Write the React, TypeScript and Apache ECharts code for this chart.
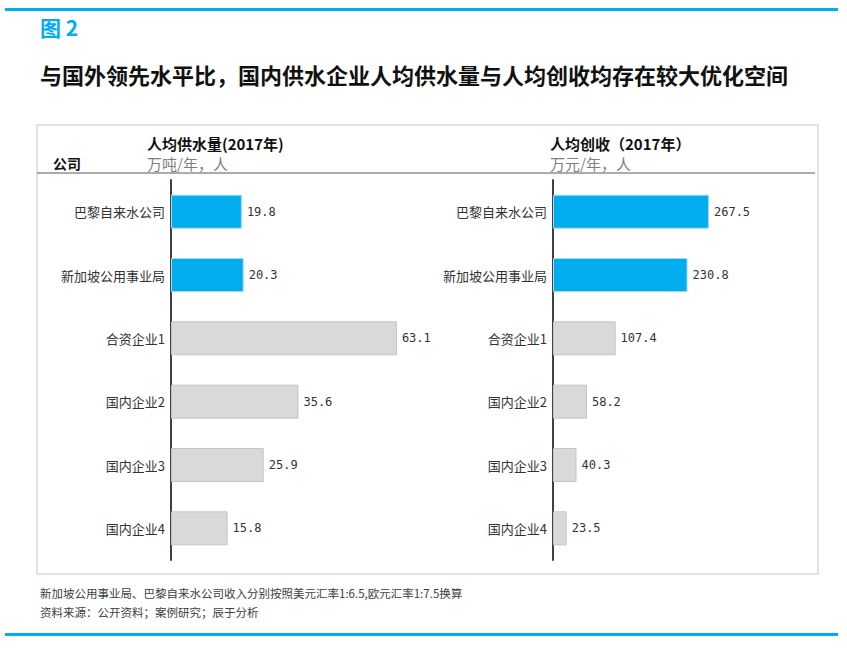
import React, { useEffect, useRef } from "react";
import * as echarts from "echarts";

const companies = ["巴黎自来水公司", "新加坡公用事业局", "合资企业1", "国内企业2", "国内企业3", "国内企业4"];
const supplyPerCapita = [19.8, 20.3, 63.1, 35.6, 25.9, 15.8];
const revenuePerCapita = [267.5, 230.8, 107.4, 58.2, 40.3, 23.5];
const highlightCount = 2;

const figLabel = "图 2";
const titleText = "与国外领先水平比，国内供水企业人均供水量与人均创收均存在较大优化空间";
const leftHeader = "人均供水量(2017年)";
const leftUnit = "万吨/年，人";
const rightHeader = "人均创收（2017年）";
const rightUnit = "万元/年，人";
const companyHeader = "公司";
const note1 = "新加坡公用事业局、巴黎自来水公司收入分别按照美元汇率1:6.5,欧元汇率1:7.5换算";
const note2 = "资料来源：公开资料；案例研究；辰于分析";

const BLUE = "#00AEEF";
const FONT = "'Noto Sans CJK SC', 'Noto Sans', sans-serif";
const MONO = "'DejaVu Sans Mono', 'Liberation Mono', monospace";

function barData(values: number[]) {
  return values.map((v, i) => ({
    value: v,
    itemStyle:
      i < highlightCount
        ? { color: BLUE, borderColor: "#A9D9EE", borderWidth: 1 }
        : { color: "#D9D9D9", borderColor: "#C4C4C4", borderWidth: 1 },
  }));
}

export default function App() {
  const ref = useRef<HTMLDivElement>(null);
  useEffect(() => {
    if (!ref.current) return;
    const chart = echarts.init(ref.current, undefined, { renderer: "svg" });
    const yAxisCommon = {
      type: "category" as const,
      data: companies,
      inverse: true,
      axisLine: { show: true, lineStyle: { color: "#404040", width: 2 } },
      axisTick: { show: false },
      axisLabel: { fontSize: 13, color: "#333", margin: 6, fontFamily: FONT },
    };
    const labelCommon = {
      show: true,
      position: "right" as const,
      distance: 5,
      fontSize: 12,
      color: "#333",
      fontFamily: MONO,
      formatter: (p: any) => Number(p.value).toFixed(1),
    };
    chart.setOption({
      animation: false,
      backgroundColor: "#fff",
      textStyle: { fontFamily: FONT },
      grid: [
        { left: 171, top: 180, width: 286.4, height: 380 },
        { left: 553, top: 180, width: 233.2, height: 380 },
      ],
      xAxis: [
        { type: "value", gridIndex: 0, min: 0, max: 80, show: false },
        { type: "value", gridIndex: 1, min: 0, max: 400, show: false },
      ],
      yAxis: [
        { ...yAxisCommon, gridIndex: 0 },
        { ...yAxisCommon, gridIndex: 1 },
      ],
      series: [
        {
          type: "bar",
          xAxisIndex: 0,
          yAxisIndex: 0,
          barWidth: 34,
          data: barData(supplyPerCapita),
          label: labelCommon,
        },
        {
          type: "bar",
          xAxisIndex: 1,
          yAxisIndex: 1,
          barWidth: 34,
          data: barData(revenuePerCapita),
          label: labelCommon,
        },
      ],
      graphic: [
        { type: "rect", shape: { x: 5, y: 8, width: 833, height: 3 }, style: { fill: BLUE } },
        { type: "rect", shape: { x: 5, y: 633, width: 833, height: 3 }, style: { fill: BLUE } },
        {
          type: "text",
          x: 40,
          y: 27,
          style: { text: figLabel, fill: BLUE, font: `bold 21px ${FONT}`, verticalAlign: "middle" },
        },
        {
          type: "text",
          x: 40,
          y: 74,
          style: { text: titleText, fill: "#111", font: `bold 22px ${FONT}`, verticalAlign: "middle" },
        },
        {
          type: "rect",
          shape: { x: 37, y: 125, width: 781, height: 449 },
          style: { fill: "none", stroke: "#E2E2E2", lineWidth: 2 },
        },
        {
          type: "line",
          shape: { x1: 37, y1: 173, x2: 815, y2: 173 },
          style: { stroke: "#595959", lineWidth: 1 },
        },
        {
          type: "text",
          x: 53,
          y: 163,
          style: { text: companyHeader, fill: "#111", font: `bold 14px ${FONT}`, verticalAlign: "middle" },
        },
        {
          type: "text",
          x: 147,
          y: 143,
          style: { text: leftHeader, fill: "#111", font: `bold 15px ${FONT}`, verticalAlign: "middle" },
        },
        {
          type: "text",
          x: 147,
          y: 163,
          style: { text: leftUnit, fill: "#7F7F7F", font: `15px ${FONT}`, verticalAlign: "middle" },
        },
        {
          type: "text",
          x: 550,
          y: 143,
          style: { text: rightHeader, fill: "#111", font: `bold 15px ${FONT}`, verticalAlign: "middle" },
        },
        {
          type: "text",
          x: 550,
          y: 163,
          style: { text: rightUnit, fill: "#7F7F7F", font: `15px ${FONT}`, verticalAlign: "middle" },
        },
        {
          type: "text",
          x: 40,
          y: 593,
          style: { text: note1, fill: "#404040", font: `11.5px ${FONT}`, verticalAlign: "middle" },
        },
        {
          type: "text",
          x: 40,
          y: 612,
          style: { text: note2, fill: "#404040", font: `11.5px ${FONT}`, verticalAlign: "middle" },
        },
      ],
    });
    return () => chart.dispose();
  }, []);
  return (
    <div
      ref={ref}
      style={{ position: "absolute", left: 0, top: 0, width: 847, height: 648 }}
    />
  );
}
